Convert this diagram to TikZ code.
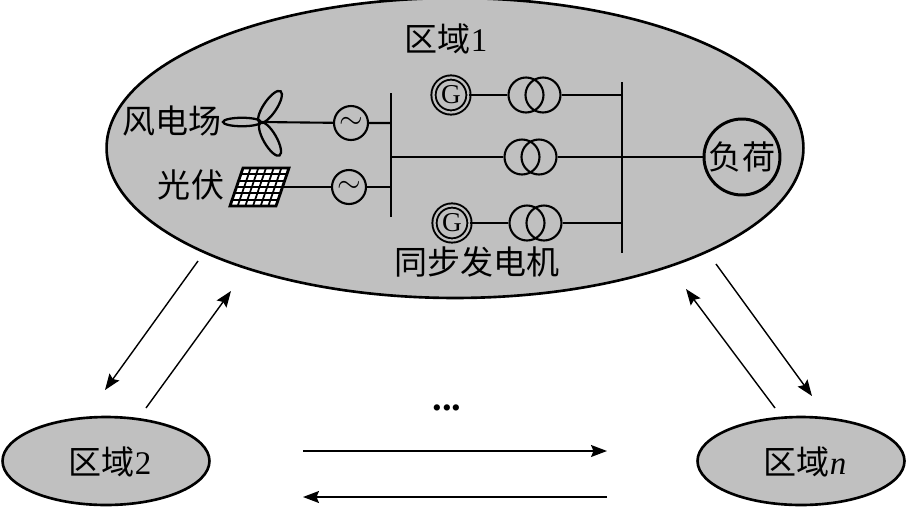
\documentclass[tikz,border=0pt]{standalone}
\usepackage{fontspec}
\setmainfont{Liberation Serif}
\newfontfamily\cjk{Noto Sans CJK SC}
\usetikzlibrary{arrows.meta,calc,shapes.geometric}
\definecolor{areagray}{HTML}{C0C0C0}
\tikzset{
	area/.style={draw, ellipse, fill=areagray, line width=1.5pt, inner sep=0pt},
	gridline/.style={line width=1.2pt},
	source/.style={draw, circle, line width=1.2pt, minimum size=0.68cm, inner sep=0pt, font=\fontsize{17pt}{17pt}\selectfont},
	gen/.style={draw, circle, double=areagray, double distance=1.3pt, line width=1.1pt, minimum size=0.7cm, inner sep=0pt, font=\fontsize{15.5pt}{15.5pt}\selectfont},
	winding/.style={draw, circle, line width=1.2pt, minimum size=0.7cm, inner sep=0pt},
	blade/.style={draw, ellipse, line width=1.3pt, minimum width=0.76cm, inner sep=0pt},
	load/.style={draw, circle, line width=1.7pt, minimum size=1.52cm, inner sep=0pt},
	caption/.style={inner sep=0pt, font=\fontsize{18.8pt}{18.8pt}\selectfont},
	flow/.style={line width=0.8pt, -{Stealth[length=0.32cm,width=0.24cm,inset=0.05cm]}}
}
\begin{document}
\begin{tikzpicture}[x=0.02cm, y=-0.02cm]
		%%%%% START %%%%%
		\useasboundingbox (0, 0) rectangle (907, 508);
		
		\node[area, minimum width=13.94cm, minimum height=6cm] (area1) at (455, 148) {};
		\node[area, minimum width=4.14cm, minimum height=1.76cm] (area2) at (106, 461) {};
		\node[area, minimum width=4.14cm, minimum height=1.76cm] (arean) at (801, 461) {};
		
		\node[caption] (area1text) at (446, 39) {{\cjk 区域}1};
		\node[caption] (area2text) at (110, 462) {{\cjk 区域}2};
		\node[caption] (areantext) at (805, 462) {{\cjk 区域}\textit{n}};
		\node[caption] (windtext) at (172, 121) {\cjk 风电场};
		\node[caption] (pvtext) at (191, 185) {\cjk 光伏};
		\node[caption] (syntext) at (477, 262) {\cjk 同步发电机};
		\node[caption, font=\fontsize{22pt}{22pt}\selectfont\bfseries] (dots) at (447, 408) {...};
		
		% busbars
		\coordinate (bus1top) at (391, 93);
		\coordinate (bus1bot) at (391, 217);
		\coordinate (bus2top) at (622, 82);
		\coordinate (bus2bot) at (622, 253);
		\draw[gridline] (bus1top) -- (bus1bot);
		\draw[gridline] (bus2top) -- (bus2bot);
		
		% wind turbine
		\coordinate (hub) at (260, 122);
		\node[blade, minimum height=0.17cm] (blade1) at (242, 122) {};
		\node[blade, minimum height=0.26cm, rotate=56] (blade2) at (270, 107) {};
		\node[blade, minimum height=0.26cm, rotate=-60] (blade3) at (270, 139) {};
		\node[source] (ac1) at (351, 123) {$\sim$};
		\coordinate (bus1a) at (391, 123);
		\draw[gridline] (hub) -- (ac1) -- (bus1a);
		
		% solar panel
		\coordinate (panelA) at (243, 168);
		\coordinate (panelB) at (289, 168);
		\coordinate (panelC) at (276, 206);
		\coordinate (panelD) at (230, 206);
		\coordinate (panelR) at (283, 187);
		\draw[fill=white, line width=1.6pt] (panelA) -- (panelB) -- (panelC) -- (panelD) -- cycle;
		\foreach \i in {1,...,5} {
			\draw[line width=1pt] ($(panelA)!\i/6!(panelB)$) -- ($(panelD)!\i/6!(panelC)$);
			\draw[line width=1pt] ($(panelA)!\i/6!(panelD)$) -- ($(panelB)!\i/6!(panelC)$);
		}
		\node[source] (ac2) at (349, 187) {$\sim$};
		\coordinate (bus1b) at (391, 187);
		\draw[gridline] (panelR) -- (ac2) -- (bus1b);
		
		% generators and transformers
		\node[gen] (gen1) at (451, 95) {G};
		\node[winding] (t1a) at (526, 95) {};
		\node[winding] (t1b) at (543, 95) {};
		\coordinate (bus2a) at (622, 95);
		\draw[gridline] (gen1) -- (t1a);
		\draw[gridline] (t1b) -- (bus2a);
		
		\coordinate (bus1c) at (391, 157);
		\node[winding] (t2a) at (522, 157) {};
		\node[winding] (t2b) at (539, 157) {};
		\draw[gridline] (bus1c) -- (t2a);
		
		\node[gen] (gen2) at (452, 223) {G};
		\node[winding] (t3a) at (527, 223) {};
		\node[winding] (t3b) at (544, 223) {};
		\coordinate (bus2c) at (622, 223);
		\draw[gridline] (gen2) -- (t3a);
		\draw[gridline] (t3b) -- (bus2c);
		
		\node[load, font=\fontsize{18.8pt}{18.8pt}\selectfont\cjk] (load1) at (742, 157) {负荷};
		\draw[gridline] (t2b) -- (load1);
		
		% exchange between the areas
		\coordinate (a1) at (198, 261);
		\coordinate (a2) at (105, 390);
		\coordinate (b1) at (146, 408);
		\coordinate (b2) at (231, 291);
		\coordinate (c1) at (716, 264);
		\coordinate (c2) at (812, 396);
		\coordinate (d1) at (775, 408);
		\coordinate (d2) at (686, 289);
		\coordinate (e1) at (303, 451);
		\coordinate (e2) at (607, 451);
		\coordinate (f1) at (607, 497);
		\coordinate (f2) at (303, 497);
		\draw[flow] (a1) -- (a2);
		\draw[flow] (b1) -- (b2);
		\draw[flow] (c1) -- (c2);
		\draw[flow] (d1) -- (d2);
		\draw[flow] (e1) -- (e2);
		\draw[flow] (f1) -- (f2);
		%%%%% END %%%%%
	\end{tikzpicture}
\end{document}
